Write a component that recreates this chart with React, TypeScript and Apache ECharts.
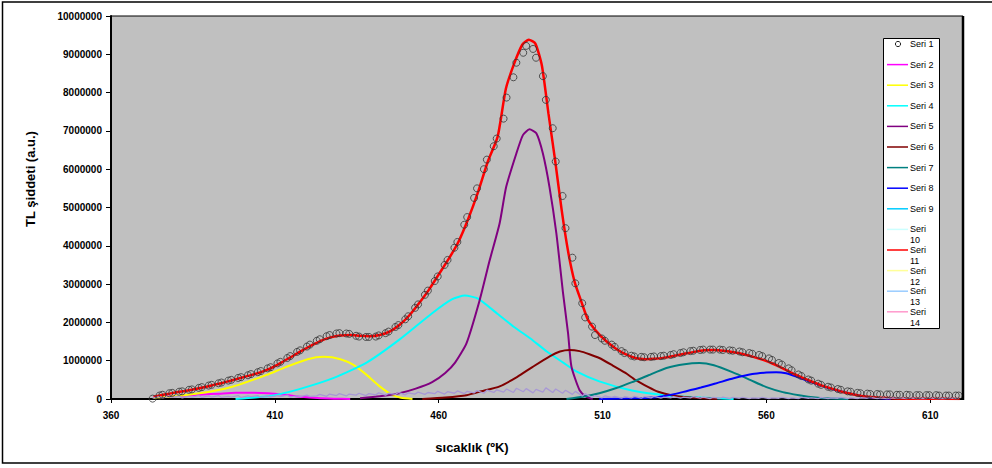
import { useEffect, useRef } from "react";
import * as echarts from "echarts";

const FONT = "'Liberation Sans', Arial, Helvetica, sans-serif";

// Temperature axis ticks (K) and intensity axis range
const tempTicks = [360, 410, 460, 510, 560, 610];
const intensityMax = 10000000;
const intensityStep = 1000000;

// Seri 1: measured glow curve (intensities in millions of a.u.)
const seri1Temps = [
  372.7,
  374.8, 375.7, 377.8, 378.7, 380.8, 381.7, 383.8, 384.7, 386.8, 387.7,
  389.8, 390.7, 392.8, 393.7, 395.8, 396.7, 398.8, 399.7, 401.8, 402.7,
  404.8, 405.7, 407.8, 408.7, 410.8, 411.7, 413.8, 414.7, 416.8, 417.7,
  419.8, 420.7, 422.8, 423.7, 425.8, 426.7, 428.8, 429.7, 431.8, 432.7,
  434.8, 435.7, 437.8, 438.7, 440.8, 441.7, 443.8, 444.7, 446.8, 447.7,
  449.8, 450.7, 452.8, 453.7, 455.8, 456.7, 458.8, 459.7, 461.8, 462.7,
  464.8, 465.7, 467.8, 468.7, 470.8, 471.7, 473.8, 474.7, 476.8, 477.7,
  479.8, 480.7, 482.8, 483.7, 485.8, 486.7, 488.8, 489.7, 491.8, 492.7,
  494.8, 495.7, 497.8, 498.7, 500.8, 501.7, 503.8, 504.7, 506.8, 507.7,
  509.8, 510.7, 512.8, 513.7, 515.8, 516.7, 518.8, 519.7, 521.8, 522.7,
  524.8, 525.7, 527.8, 528.7, 530.8, 531.7, 533.8, 534.7, 536.8, 537.7,
  539.8, 540.7, 542.8, 543.7, 545.8, 546.7, 548.8, 549.7, 551.8, 552.7,
  554.8, 555.7, 557.8, 558.7, 560.8, 561.7, 563.8, 564.7, 566.8, 567.7,
  569.8, 570.7, 572.8, 573.7, 575.8, 576.7, 578.8, 579.7, 581.8, 582.7,
  584.8, 585.7, 587.8, 588.7, 590.8, 591.7, 593.8, 594.7, 596.8, 597.7,
  599.8, 600.7, 602.8, 603.7, 605.8, 606.7, 608.8, 609.7, 611.8, 612.7,
  614.8, 615.7, 617.8, 618.7,
];
const seri1Values = [
  0.01,
  0.09, 0.11, 0.15, 0.16, 0.19, 0.2, 0.24, 0.25, 0.29, 0.31,
  0.35, 0.37, 0.41, 0.43, 0.48, 0.5, 0.55, 0.57, 0.62, 0.65,
  0.7, 0.73, 0.8, 0.83, 0.93, 0.97, 1.07, 1.12, 1.23, 1.27,
  1.37, 1.42, 1.52, 1.56, 1.64, 1.67, 1.71, 1.72, 1.71, 1.7,
  1.65, 1.63, 1.62, 1.62, 1.63, 1.66, 1.72, 1.76, 1.88, 1.93,
  2.08, 2.16, 2.38, 2.47, 2.72, 2.83, 3.08, 3.2, 3.5, 3.63,
  3.95, 4.1, 4.55, 4.75, 5.25, 5.5, 6.0, 6.25, 6.6, 6.8,
  7.32, 7.87, 8.4, 8.78, 9.04, 9.22, 9.14, 8.91, 8.43, 7.81,
  7.07, 6.2, 5.3, 4.46, 3.69, 3.02, 2.5, 2.13, 1.89, 1.67,
  1.58, 1.52, 1.42, 1.36, 1.25, 1.2, 1.13, 1.11, 1.1, 1.09,
  1.1, 1.11, 1.12, 1.13, 1.15, 1.17, 1.2, 1.22, 1.25, 1.26,
  1.28, 1.29, 1.29, 1.29, 1.29, 1.28, 1.27, 1.26, 1.24, 1.22,
  1.2, 1.18, 1.15, 1.12, 1.06, 1.02, 0.94, 0.9, 0.8, 0.75,
  0.64, 0.6, 0.51, 0.48, 0.4, 0.37, 0.32, 0.3, 0.26, 0.24,
  0.2, 0.19, 0.16, 0.15, 0.14, 0.13, 0.13, 0.12, 0.12, 0.12,
  0.11, 0.11, 0.11, 0.1, 0.1, 0.1, 0.1, 0.1, 0.1, 0.09,
  0.09, 0.09, 0.09, 0.09,
];

// Deconvoluted glow peaks (millions of a.u.)
const seri2Temps = [373, 378, 383, 388, 393, 398, 403, 408, 413, 418, 423, 428, 433];
const seri2Values = [0.05, 0.07, 0.09, 0.12, 0.14, 0.16, 0.165, 0.15, 0.11, 0.06, 0.025, 0.008, 0];

const seri3Temps = [373, 380, 387, 392, 397, 402, 407.5, 413.5, 420, 425, 430, 434, 438, 442, 445.5, 448.5, 452];
const seri3Values = [0.03, 0.08, 0.15, 0.22, 0.32, 0.46, 0.63, 0.84, 1.04, 1.1, 1.04, 0.89, 0.63, 0.33, 0.12, 0.03, 0];

const seri4Temps = [398, 404, 410, 418, 428, 438, 448, 458, 464, 468, 472, 478, 483, 488, 493, 498, 502, 509, 519, 529, 540, 550];
const seri4Values = [0, 0.04, 0.1, 0.27, 0.55, 0.95, 1.55, 2.24, 2.6, 2.7, 2.62, 2.22, 1.88, 1.58, 1.24, 0.95, 0.72, 0.46, 0.22, 0.1, 0.04, 0];

const seri5Temps = [436, 442, 448, 453, 458, 462, 465, 468.5, 472.5, 475.5, 478.6, 480.6, 483.7, 485.7, 487.7, 489.8, 491.8, 493.8, 495.9, 497.9, 499.5, 500.5, 503, 505, 507];
const seri5Values = [0.02, 0.07, 0.15, 0.27, 0.44, 0.68, 0.95, 1.46, 2.58, 3.6, 4.59, 5.54, 6.41, 6.89, 7.04, 6.94, 6.41, 5.54, 4.33, 2.8, 1.7, 0.85, 0.23, 0.06, 0];

const seri6Temps = [455, 462, 468.5, 473, 478.6, 484, 488.7, 494, 497, 500, 503, 506, 509, 513, 517, 520, 524, 527, 531, 535, 540, 545];
const seri6Values = [0, 0.04, 0.1, 0.2, 0.33, 0.58, 0.84, 1.12, 1.24, 1.28, 1.25, 1.17, 1.07, 0.88, 0.68, 0.5, 0.31, 0.19, 0.1, 0.05, 0.02, 0];

const seri7Temps = [499, 504, 509, 514, 519, 524, 529.5, 535, 539.6, 544, 549.6, 555, 560, 565, 570, 575, 580, 585];
const seri7Values = [0, 0.06, 0.15, 0.28, 0.44, 0.62, 0.81, 0.91, 0.94, 0.88, 0.7, 0.5, 0.31, 0.18, 0.1, 0.04, 0.01, 0];

const seri8Temps = [509, 517, 524, 529, 534.4, 540, 544.7, 550, 555.7, 560, 563, 566, 570, 573, 576, 580, 585, 589, 593, 598];
const seri8Values = [0, 0.01, 0.03, 0.08, 0.18, 0.3, 0.41, 0.54, 0.65, 0.69, 0.7, 0.67, 0.56, 0.46, 0.37, 0.26, 0.15, 0.08, 0.03, 0];

// Seri 11: fitted total curve (millions of a.u.)
const seri11Temps = [
  373, 376, 379, 382, 385, 388, 391, 394, 397, 400, 403, 406, 409, 412, 415, 418, 421, 424, 427, 430,
  433, 436, 439, 442, 445, 448, 451, 454, 457, 460, 463, 466, 469, 472, 475, 478, 480.5, 483, 485.5, 487.5,
  489.5, 491.5, 493.5, 495.5, 497.5, 499.5, 501.5, 503.5, 505.5, 508, 511, 514, 517, 520, 523, 526, 529, 532, 535, 538,
  541, 544, 547, 550, 553, 556, 559, 562, 565, 568, 571, 574, 577, 580, 583, 586, 589, 592, 595, 600, 610, 619,
];
const seri11Values = [
  0.06, 0.11, 0.16, 0.2, 0.25, 0.3, 0.36, 0.42, 0.49, 0.56, 0.63, 0.71, 0.81, 0.95, 1.1, 1.25, 1.39, 1.52, 1.61, 1.66,
  1.67, 1.65, 1.64, 1.67, 1.76, 1.93, 2.18, 2.5, 2.85, 3.25, 3.65, 4.1, 4.7, 5.4, 6.2, 6.85, 8.1, 8.75, 9.25, 9.38,
  9.28, 8.7, 7.45, 6.25, 4.95, 3.85, 3.05, 2.55, 2.08, 1.78, 1.52, 1.32, 1.17, 1.07, 1.04, 1.05, 1.08, 1.13, 1.18, 1.23,
  1.27, 1.28, 1.26, 1.22, 1.17, 1.1, 1.02, 0.92, 0.8, 0.67, 0.56, 0.45, 0.35, 0.27, 0.19, 0.13, 0.08, 0.05, 0.03, 0.015, 0.005, 0.003,
];

// Seri 13: fit residual (thousands of a.u.), sampled on the Seri 1 temperatures
const seri13Values = [
  20, 60, 30, 70, 40, 80, 30, 70, 50, 90, 40, 80, 50, 90, 40, 70, 50, 90, 40, 80,
  60, 90, 40, 80, 50, 90, 60, 100, 50, 80, 60, 100, 70,
  80, 120, 70, 130, 90, 140, 80, 130, 100, 150, 90, 140, 110, 160, 100, 150, 120, 170, 110, 160,
  130, 180, 120, 170, 140, 200, 130, 190, 150, 210, 140, 200, 160, 220, 150, 230, 170, 240,
  180, 260, 170, 280, 190, 270, 160, 250, 180, 290, 170, 260, 150, 230, 120, 200, 80, 140,
  40, 90, 30, 80, 40, 70, 20, 60, 30, 70, 20, 60, 30, 70, 20, 50, 30, 60, 20, 50, 30, 60, 20, 50,
  10, 40, 20, 50, 10, 40, 20, 40, 10, 30, 20, 40, 10, 30, 20, 40, 10, 30, 10, 40,
  20, 30, 10, 40, 10, 30, 20, 40, 10, 30, 10, 30, 20, 40, 10, 30, 10, 30, 20, 30,
  10, 30, 10, 20, 10, 30, 10, 20, 10, 30, 10, 20,
];

const seriesNames = [
  "Seri 1", "Seri 2", "Seri 3", "Seri 4", "Seri 5", "Seri 6", "Seri 7",
  "Seri 8", "Seri 9", "Seri 10", "Seri 11", "Seri 12", "Seri 13", "Seri 14",
];
const seriesColors = [
  "#000000", "#FF00FF", "#FFFF00", "#00FFFF", "#800080", "#800000", "#008080",
  "#0000FF", "#00CCFF", "#CCFFFF", "#FF0000", "#FFFF99", "#99CCFF", "#FF99CC",
];
const residualColor = "#A898D6";

const MEGA = 1e6;
const KILO = 1e3;

function pairs(temps: number[], values: number[], unit: number) {
  return temps.map((t, i) => [t, values[i] * unit]);
}

function lineSeries(name: string, color: string, data: number[][], width = 2, z = 2, smooth = 0.2) {
  return {
    name,
    type: "line",
    data,
    showSymbol: false,
    symbol: "none",
    smooth,
    silent: true,
    z,
    lineStyle: { color, width },
    itemStyle: { color },
  };
}

function buildLegend() {
  const left = 883;
  const top = 38;
  const width = 56;
  const height = 290;
  const rowGap = 20.6;
  const firstRow = 44;
  const children: any[] = [
    {
      type: "rect",
      shape: { x: left + 0.5, y: top + 0.5, width, height },
      style: { fill: "#FFFFFF", stroke: "#000000", lineWidth: 1 },
    },
  ];
  seriesNames.forEach((name, i) => {
    const y = firstRow + i * rowGap;
    if (i === 0) {
      children.push({
        type: "circle",
        shape: { cx: 898, cy: y, r: 2.6 },
        style: { fill: "none", stroke: "#222222", lineWidth: 1 },
      });
    } else {
      children.push({
        type: "line",
        shape: { x1: 887, y1: y, x2: 908, y2: y },
        style: { stroke: seriesColors[i], lineWidth: 1.5 },
      });
    }
    const [word, num] = name.split(" ");
    const twoLines = num.length > 1;
    children.push({
      type: "text",
      x: 910,
      y: twoLines ? y - 5.5 : y,
      style: {
        text: twoLines ? `${word}\n${num}` : name,
        fill: "#000000",
        font: `9px ${FONT}`,
        lineHeight: 11,
        align: "left",
        verticalAlign: twoLines ? "top" : "middle",
      },
    });
  });
  return { type: "group", children, silent: true, z: 20 };
}

export default function App() {
  const ref = useRef<HTMLDivElement>(null);

  useEffect(() => {
    if (!ref.current) return;
    const chart = echarts.init(ref.current, undefined, { renderer: "svg" });

    const option: any = {
      animation: false,
      backgroundColor: "#FFFFFF",
      textStyle: { fontFamily: FONT },
      grid: {
        left: 111,
        top: 16,
        right: 29,
        bottom: 69,
        show: true,
        backgroundColor: "#C0C0C0",
        borderColor: "#000000",
        borderWidth: 1,
      },
      xAxis: {
        type: "value",
        min: 360,
        max: 620,
        splitLine: { show: false },
        axisLine: { onZero: false, lineStyle: { color: "#000000", width: 2 } },
        axisTick: { show: true, length: 4, customValues: tempTicks, lineStyle: { color: "#000000", width: 1 } },
        axisLabel: {
          customValues: tempTicks,
          margin: 11,
          color: "#000000",
          fontWeight: "bold",
          fontSize: 10,
          fontFamily: FONT,
          formatter: (v: number) => String(v),
        },
      },
      yAxis: {
        type: "value",
        min: 0,
        max: intensityMax,
        interval: intensityStep,
        splitLine: { show: false },
        axisLine: { show: true, lineStyle: { color: "#000000", width: 2 } },
        axisTick: { show: true, length: 5, lineStyle: { color: "#000000", width: 1 } },
        axisLabel: {
          margin: 9,
          color: "#000000",
          fontWeight: "bold",
          fontSize: 10,
          fontFamily: FONT,
          formatter: (v: number) => String(v),
        },
      },
      graphic: [
        {
          type: "rect",
          shape: { x: 2.5, y: 2, width: 1000, height: 461 },
          style: { fill: "none", stroke: "#000000", lineWidth: 1.5 },
          silent: true,
          z: 30,
        },
        {
          type: "line",
          shape: { x1: 963, y1: 16, x2: 963, y2: 400 },
          style: { stroke: "#000000", lineWidth: 2.5 },
          silent: true,
          z: 30,
        },
        {
          type: "text",
          x: 30,
          y: 179,
          rotation: Math.PI / 2,
          style: {
            text: "TL şiddeti (a.u.)",
            fill: "#000000",
            font: `bold 13px ${FONT}`,
            align: "center",
            verticalAlign: "middle",
          },
          silent: true,
        },
        {
          type: "text",
          x: 472,
          y: 447,
          style: {
            text: "sıcaklık (ºK)",
            fill: "#000000",
            font: `bold 13px ${FONT}`,
            align: "center",
            verticalAlign: "middle",
          },
          silent: true,
        },
        buildLegend(),
      ],
      series: [
        lineSeries(seriesNames[1], seriesColors[1], pairs(seri2Temps, seri2Values, MEGA)),
        lineSeries(seriesNames[2], seriesColors[2], pairs(seri3Temps, seri3Values, MEGA)),
        lineSeries(seriesNames[3], seriesColors[3], pairs(seri4Temps, seri4Values, MEGA)),
        lineSeries(seriesNames[4], seriesColors[4], pairs(seri5Temps, seri5Values, MEGA)),
        lineSeries(seriesNames[5], seriesColors[5], pairs(seri6Temps, seri6Values, MEGA)),
        lineSeries(seriesNames[6], seriesColors[6], pairs(seri7Temps, seri7Values, MEGA)),
        lineSeries(seriesNames[7], seriesColors[7], pairs(seri8Temps, seri8Values, MEGA)),
        lineSeries(seriesNames[10], seriesColors[10], pairs(seri11Temps, seri11Values, MEGA), 2.5, 3),
        lineSeries(seriesNames[12], residualColor, pairs(seri1Temps, seri13Values, KILO), 1.3, 4, 0),
        {
          name: seriesNames[0],
          type: "scatter",
          data: pairs(seri1Temps, seri1Values, MEGA),
          symbol: "circle",
          symbolSize: 7,
          silent: true,
          z: 5,
          itemStyle: { color: "rgba(0,0,0,0)", borderColor: "#333333", borderWidth: 1 },
        },
      ],
    };

    chart.setOption(option);
    return () => chart.dispose();
  }, []);

  return (
    <div
      ref={ref}
      style={{ position: "absolute", left: 0, top: 0, width: 992, height: 468, background: "#FFFFFF" }}
    />
  );
}
